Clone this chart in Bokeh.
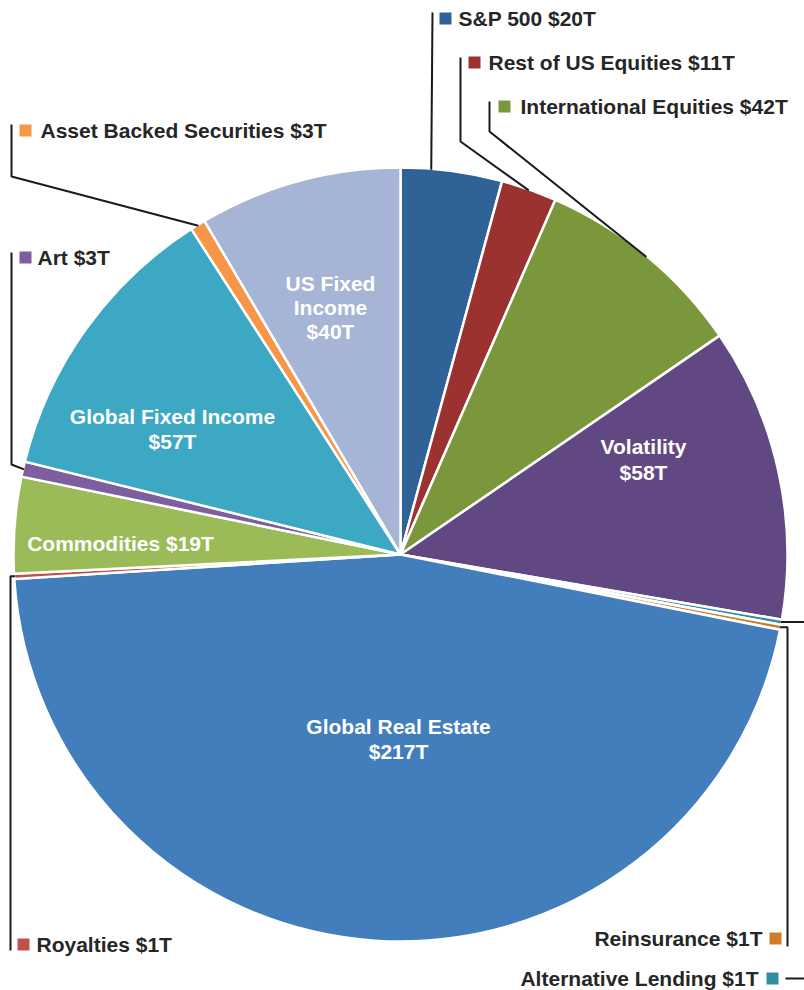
import math
from bokeh.plotting import figure
from bokeh.models import Range1d
from bokeh.core.properties import value
from bokeh.embed import file_html
from bokeh.resources import INLINE

# ---- data (clockwise from 12 o'clock) ----
names = ["S&P 500", "Rest of US Equities", "International Equities", "Volatility",
         "Alternative Lending", "Reinsurance", "Global Real Estate", "Royalties",
         "Commodities", "Art", "Global Fixed Income", "Asset Backed Securities",
         "US Fixed Income"]
values = [20, 11, 42, 58, 1, 1, 217, 1, 19, 3, 57, 3, 40]
colors = ["#2F6296", "#9B3230", "#7A983B", "#614882", "#2E8FA0", "#D07A2C",
          "#427DBC", "#C0504D", "#9BBB59", "#7D5FA0", "#3DA8C3", "#F79646",
          "#A6B5D5"]
labels = [f"{n} ${v}T" for n, v in zip(names, values)]

W, H = 804, 990


def Y(py):
    return H - py


CX, CY, R = 400, 554, 387

p = figure(width=W, height=H, output_backend="svg", toolbar_location=None,
           x_range=Range1d(0, W), y_range=Range1d(0, H), min_border=0)
p.axis.visible = False
p.grid.visible = False
p.outline_line_color = None
p.background_fill_color = "white"
p.border_fill_color = "white"

total = sum(values)
cum = [0]
for v in values:
    cum.append(cum[-1] + v)
theta0 = [c / total * 2 * math.pi for c in cum[:-1]]  # clockwise from top
theta1 = [c / total * 2 * math.pi for c in cum[1:]]

p.wedge(x=[CX] * len(values), y=[Y(CY)] * len(values), radius=R,
        start_angle=[math.pi / 2 - t for t in theta1],
        end_angle=[math.pi / 2 - t for t in theta0],
        direction="anticlock", fill_color=colors, line_color="white", line_width=2.5)


def edge(i, frac=0.5, rr=R - 1):
    t = theta0[i] + (theta1[i] - theta0[i]) * frac
    return CX + rr * math.sin(t), CY - rr * math.cos(t)


FONT = value("Liberation Sans")
DARK = "#262626"
FS = "21px"

# ---- inside labels ----
inside = [
    (12, ["US Fixed", "Income", "$40T"], 330, [283, 307, 331]),
    (10, ["Global Fixed Income", "$57T"], 172, [416, 441]),
    (3, ["Volatility", "$58T"], 643, [446, 472]),
    (8, ["Commodities $19T"], 120, [543]),
    (6, ["Global Real Estate", "$217T"], 398, [726, 751]),
]
for idx, lines, x, ys in inside:
    p.text(x=[x] * len(lines), y=[Y(y) for y in ys], text=lines, text_font=FONT,
           text_font_style="bold", text_font_size=FS, text_color="white",
           text_align="center", text_baseline="middle")

# ---- outside labels with leaders ----
outside = [
    (0, 458, 18, "left", 445),
    (1, 488, 62, "left", 474),
    (2, 520, 106, "left", 504),
    (11, 40, 130, "left", 25),
    (9, 37, 257, "left", 25),
    (7, 36, 944, "left", 23),
    (5, 762, 938, "right", 775),
    (4, 758, 978, "right", 772),
]
for idx, tx, ty, al, sx in outside:
    p.text(x=[tx], y=[Y(ty)], text=[labels[idx]], text_font=FONT,
           text_font_style="bold", text_font_size=FS, text_color=DARK,
           text_align=al, text_baseline="middle")
    p.scatter(x=[sx], y=[Y(ty)], marker="square", size=12,
              fill_color=colors[idx], line_color=None)

xs, ys = [], []


def add(path):
    xs.append([pt[0] for pt in path])
    ys.append([Y(pt[1]) for pt in path])


add([(432, 12), edge(0, 0.3)])
add([(460, 57), (460, 141), edge(1)])
add([(489, 101), (489, 131), edge(2)])
ex, ey = edge(11)
add([(11, 124), (11, 176), (ex, ey)])
add([(11, 252), (11, 464), edge(9)])
ex, ey = edge(7)
add([(10, 950), (10, ey), (ex, ey)])
ex, ey = edge(5)
add([(787, 946), (787, ey), (ex, ey)])
ex, ey = edge(4)
add([(785, 978), (812, 978), (812, ey), (ex, ey)])

p.multi_line(xs=xs, ys=ys, line_color="#1a1a1a", line_width=2)

open("out.html", "w").write(file_html(p, INLINE))
